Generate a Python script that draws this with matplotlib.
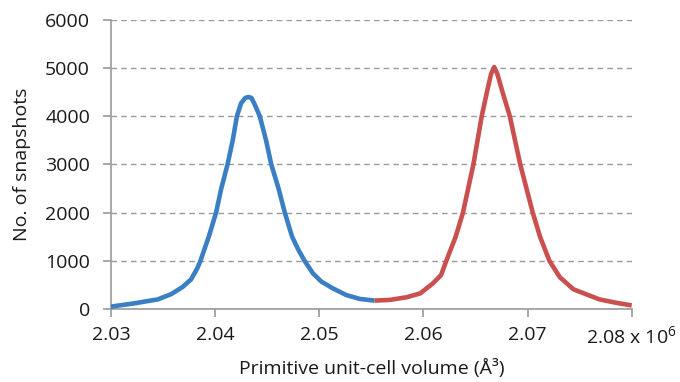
import matplotlib
matplotlib.use("Agg")
import matplotlib.pyplot as plt

plt.rcParams['font.family'] = ['Open Sans', 'DejaVu Sans']
plt.rcParams['mathtext.fontset'] = 'custom'
plt.rcParams['mathtext.rm'] = 'Open Sans'

# volumes in units of 1e6 A^3, counts
vol_blue = [2.0300, 2.0323, 2.0345, 2.0358, 2.0369, 2.0377, 2.0383, 2.0386, 2.0394,
            2.0401, 2.0406, 2.0412, 2.0417, 2.0421, 2.0425, 2.0429, 2.0432, 2.0435,
            2.0438, 2.0443, 2.0449, 2.0454, 2.0461, 2.0467, 2.0474, 2.0480, 2.0486,
            2.0494, 2.0502, 2.0513, 2.0526, 2.0539, 2.0553]
cnt_blue = [50, 120, 200, 310, 460, 615, 845, 1000, 1500,
            2000, 2500, 3000, 3500, 4000, 4270, 4380, 4400, 4380,
            4250, 4000, 3500, 3000, 2500, 2000, 1500, 1230, 1000,
            740, 570, 430, 290, 210, 175]

vol_red = [2.0553, 2.0568, 2.0584, 2.0597, 2.0609, 2.0617, 2.0622, 2.0631, 2.0638,
           2.0643, 2.0648, 2.0652, 2.0656, 2.0661, 2.0665, 2.0668, 2.0671, 2.0676,
           2.0683, 2.0688, 2.0693, 2.0699, 2.0705, 2.0712, 2.0721, 2.0731, 2.0744,
           2.0769, 2.0785, 2.0800]
cnt_red = [175, 190, 245, 325, 530, 705, 1000, 1500, 2000,
           2500, 3000, 3500, 4000, 4500, 4880, 5020, 4880, 4500,
           4000, 3500, 3000, 2500, 2000, 1500, 1000, 660, 410,
           200, 130, 75]

fig = plt.figure(figsize=(6.8, 3.82), dpi=100)
ax = fig.add_axes([0.163, 0.191, 0.766, 0.757])

ax.plot(vol_blue, cnt_blue, color='#3a7fc3', lw=3.3, solid_capstyle='butt',
        solid_joinstyle='round', zorder=3)
ax.plot(vol_red, cnt_red, color='#c9504f', lw=3.3, solid_capstyle='butt',
        solid_joinstyle='round', zorder=3)

ax.set_xlim(2.03, 2.08)
ax.set_ylim(0, 6000)
ax.set_xticks([2.03, 2.04, 2.05, 2.06, 2.07, 2.08])
ax.set_xticklabels(['2.03', '2.04', '2.05', '2.06', '2.07', '2.08 x 10$^{6}$'])
ax.set_yticks(range(0, 6001, 1000))
ax.yaxis.grid(True, linestyle=(0, (4, 3)), color='#999999', lw=1)
ax.set_axisbelow(True)

for s in ['top', 'right']:
    ax.spines[s].set_visible(False)
for s in ['left', 'bottom']:
    ax.spines[s].set_color('#999999')
    ax.spines[s].set_linewidth(1.2)
ax.tick_params(axis='x', length=6, width=1.2, color='#999999', direction='out',
               labelsize=14, pad=6, labelcolor='#1a1a1a')
ax.tick_params(axis='y', length=6, width=1.2, color='#999999', direction='out',
               labelsize=14, pad=9, labelcolor='#1a1a1a')

ax.set_xlabel('Primitive unit-cell volume (Å³)', fontsize=14, color='#1a1a1a', labelpad=8)
ax.set_ylabel('No. of snapshots', fontsize=14, color='#1a1a1a', labelpad=10)

fig.savefig('out.png', dpi=100)
